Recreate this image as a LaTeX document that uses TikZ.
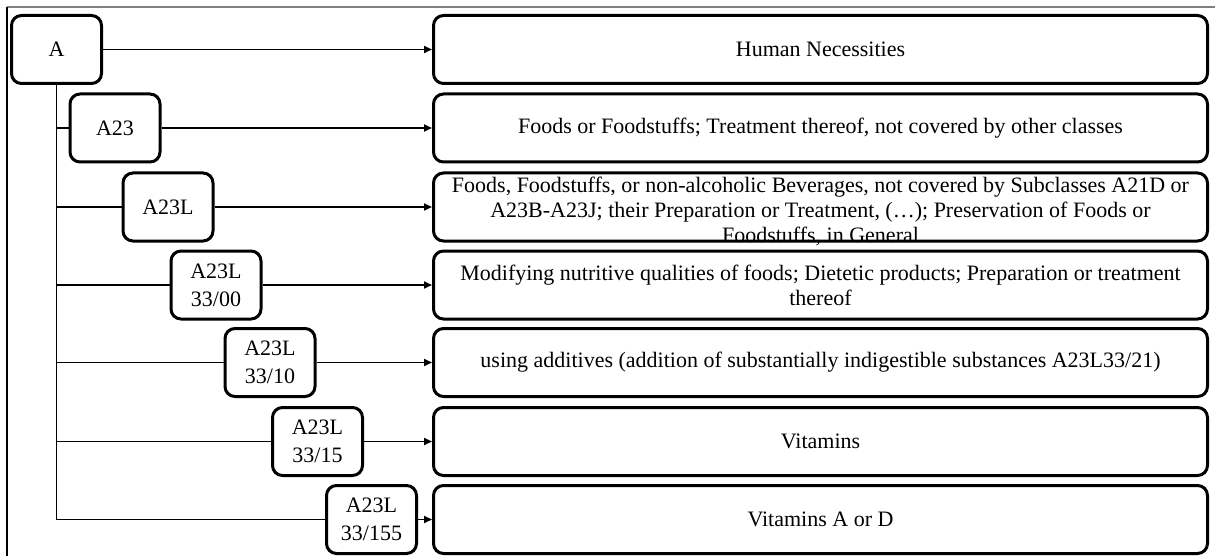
\documentclass[tikz,border=0pt]{standalone}
\usepackage{fontspec}
\setmainfont{Liberation Serif}
\usepackage{tikz}
\usetikzlibrary{arrows.meta}
\tikzset{
codebox/.style={draw, line width=3pt, rounded corners=10pt, minimum width=90pt, minimum height=68pt, inner sep=0pt, align=center, font=\fontsize{22}{28}\selectfont},
descbox/.style={draw, line width=3pt, rounded corners=10pt, minimum width=774pt, minimum height=68pt, inner sep=0pt, align=center, font=\fontsize{22}{25}\selectfont},
desctext/.style={inner sep=0pt, align=center, font=\fontsize{22}{25}\selectfont},
link/.style={line width=1.7pt, -{Triangle[length=8pt,width=7pt]}},
tree/.style={line width=1.7pt},
}

\begin{document}
\begin{tikzpicture}[x=1pt,y=-1pt]
\useasboundingbox (0,0) rectangle (1215,556);
\draw[gray, line width=1.4pt] (7,7) -- (1215,7);
\draw[line width=1.4pt] (7,7) -- (7,556);
\node[codebox] (c0) at (56.5,49.5) {A};
\node[codebox] (c1) at (115,128) {A23};
\node[codebox] (c2) at (168,207) {A23L};
\node[codebox] (c3) at (216,285) {A23L\\33/00};
\node[codebox] (c4) at (270,362.5) {A23L\\33/10};
\node[codebox] (c5) at (317.5,441.5) {A23L\\33/15};
\node[codebox] (c6) at (371.5,519.5) {A23L\\33/155};
\node[descbox] (d0) at (820.5,49.5) {Human Necessities};
\node[descbox] (d1) at (820.5,128) {Foods or Foodstuffs; Treatment thereof, not covered by other classes};
\node[descbox] (d2) at (820.5,207) {};
\node[desctext] at ([yshift=-4pt]d2.center) {Foods, Foodstuffs, or non-alcoholic Beverages, not covered by Subclasses A21D or\\A23B-A23J; their Preparation or Treatment, (\dots); Preservation of Foods or\\Foodstuffs, in General};
\node[descbox] (d3) at (820.5,285) {Modifying nutritive qualities of foods; Dietetic products; Preparation or treatment\\thereof};
\node[descbox] (d4) at (820.5,362.5) {using additives (addition of substantially indigestible substances A23L33/21)};
\node[descbox] (d5) at (820.5,441.5) {Vitamins};
\node[descbox] (d6) at (820.5,519.5) {Vitamins A or D};
\draw[tree] (c0.south) -- (c0.south |- c6.west) -- (c6.west);
\draw[tree] (c0.south |- c1.west) -- (c1.west);
\draw[tree] (c0.south |- c2.west) -- (c2.west);
\draw[tree] (c0.south |- c3.west) -- (c3.west);
\draw[tree] (c0.south |- c4.west) -- (c4.west);
\draw[tree] (c0.south |- c5.west) -- (c5.west);
\draw[link] (c0) -- (d0);
\draw[link] (c1) -- (d1);
\draw[link] (c2) -- (d2);
\draw[link] (c3) -- (d3);
\draw[link] (c4) -- (d4);
\draw[link] (c5) -- (d5);
\draw[link] (c6) -- (d6);
\end{tikzpicture}
\end{document}
